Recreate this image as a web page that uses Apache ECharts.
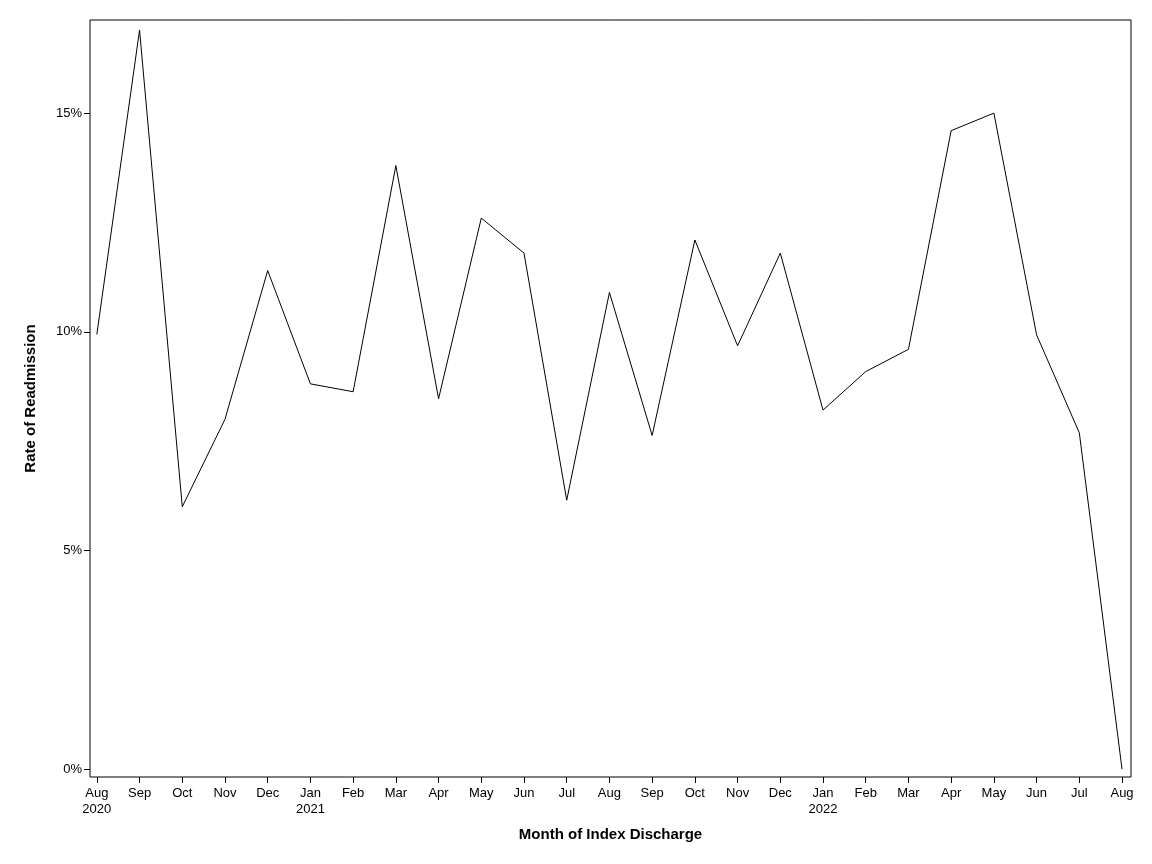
<!DOCTYPE html>
<html><head><meta charset="utf-8">
<script src="https://cdn.jsdelivr.net/npm/echarts@6/dist/echarts.min.js"></script>
<style>html,body{margin:0;padding:0;background:#fff}#c{width:1152px;height:864px}</style>
</head><body><div id="c"></div>
<script>
const months = ['Aug\n2020','Sep','Oct','Nov','Dec','Jan\n2021','Feb','Mar','Apr','May','Jun','Jul','Aug','Sep','Oct','Nov','Dec','Jan\n2022','Feb','Mar','Apr','May','Jun','Jul','Aug'];
const rates = [9.94,16.9,6.00,8.00,11.4,8.81,8.63,13.8,8.47,12.6,11.8,6.15,10.9,7.63,12.1,9.68,11.8,8.21,9.09,9.60,14.6,15.0,9.93,7.69,0.00];
const labels = ['9.94%','16.9%','6.00%','8.00%','11.4%','8.81%','8.63%','13.8%','8.47%','12.6%','11.8%','6.15%','10.9%','7.63%','12.1%','9.68%','11.8%','8.21%','9.09%','9.60%','14.6%','15.0%','9.93%','7.69%','0.00%'];
const labelSide = ['ru','rd','lu','ru','ru','ru','ru','ru','ru','ru','ru','ru','ru','ru','ru','rd','ru','lu','lu','ru','lu','ru','ru','ru','lu'];
const yTicks = [0,5,10,15];

const font = 'Liberation Sans, Arial, sans-serif';
const data = rates.map((v,i)=>{
  const s = labelSide[i];
  return {value:[i,v], label:{
    position: s[0]==='r'?'right':'left', distance:3,
    offset:[0, s[1]==='u'?-7:8], formatter: labels[i]
  }};
});
const chart = echarts.init(document.getElementById('c'));
chart.setOption({
  animation:false,
  grid:{left:90,right:21,top:20,bottom:87,show:true,borderColor:'#000',borderWidth:1},
  xAxis:{type:'value',min:-0.16,max:24.21,interval:1,
    name:'Month of Index Discharge',nameLocation:'middle',nameGap:50,
    nameTextStyle:{fontFamily:font,fontSize:15,fontWeight:'bold',color:'#000'},
    axisLine:{show:false,onZero:false},splitLine:{show:false},
    axisTick:{show:true,length:6,lineStyle:{color:'#000'},customValues:months.map((m,i)=>i)},
    axisLabel:{fontFamily:font,fontSize:13,color:'#000',lineHeight:16,margin:8,
      customValues:months.map((m,i)=>i),formatter:v=>months[Math.round(v)]||''}},
  yAxis:{type:'value',min:-0.18,max:17.13,
    name:'Rate of Readmission',nameLocation:'middle',nameGap:52,
    nameTextStyle:{fontFamily:font,fontSize:15,fontWeight:'bold',color:'#000'},
    axisLine:{show:false,onZero:false},splitLine:{show:false},
    axisTick:{show:true,length:6,lineStyle:{color:'#000'},customValues:yTicks},
    axisLabel:{fontFamily:font,fontSize:13,color:'#000',customValues:yTicks,formatter:v=>Math.round(v)+'%'}},
  series:[{type:'line',data:data,symbol:'circle',symbolSize:0,showSymbol:true,showAllSymbol:true,
    itemStyle:{opacity:0},lineStyle:{color:'#000',width:1},
    label:{show:true,fontFamily:font,fontSize:11,color:'#000'},
    labelLayout:{hideOverlap:false}}]
});
</script></body></html>
